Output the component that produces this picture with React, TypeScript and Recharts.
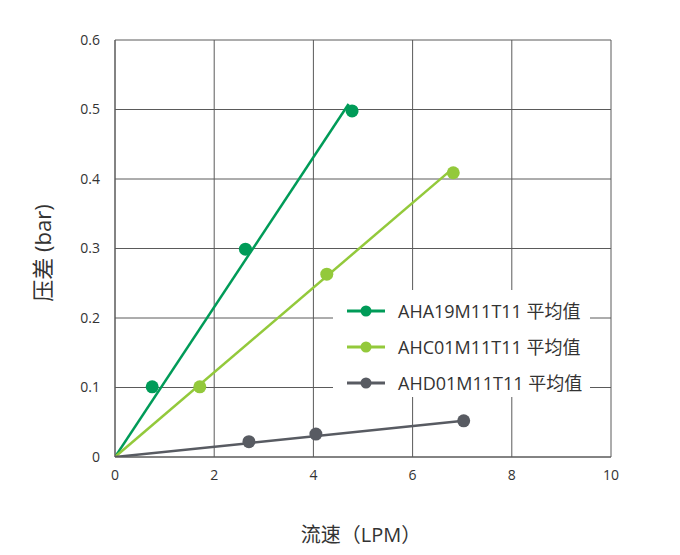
import {
    ComposedChart,
    Line,
    Scatter,
    XAxis,
    YAxis,
    CartesianGrid,
    Legend,
} from 'recharts';

// measured points (flow LPM, pressure drop bar)
const aha19Flow = [0.75, 2.63, 4.78];
const aha19Drop = [0.101, 0.299, 0.498];
const ahc01Flow = [1.71, 4.27, 6.82];
const ahc01Drop = [0.101, 0.263, 0.409];
const ahd01Flow = [2.7, 4.05, 7.03];
const ahd01Drop = [0.022, 0.033, 0.052];

// trend lines: start and end
const aha19FitFlow = [0, 4.71];
const aha19FitDrop = [0, 0.508];
const ahc01FitFlow = [0, 6.76];
const ahc01FitDrop = [0, 0.412];
const ahd01FitFlow = [0, 7.03];
const ahd01FitDrop = [0, 0.052];

const xTicks = [0, 2, 4, 6, 8, 10];
const yTicks = [0, 0.1, 0.2, 0.3, 0.4, 0.5, 0.6];

const toPoints = (xs: number[], ys: number[]) => xs.map((x, i) => ({ x, y: ys[i] }));

const series = [
    {
        name: 'AHA19M11T11 平均值',
        color: '#009b58',
        points: toPoints(aha19Flow, aha19Drop),
        fit: toPoints(aha19FitFlow, aha19FitDrop),
    },
    {
        name: 'AHC01M11T11 平均值',
        color: '#93c93b',
        points: toPoints(ahc01Flow, ahc01Drop),
        fit: toPoints(ahc01FitFlow, ahc01FitDrop),
    },
    {
        name: 'AHD01M11T11 平均值',
        color: '#585b62',
        points: toPoints(ahd01Flow, ahd01Drop),
        fit: toPoints(ahd01FitFlow, ahd01FitDrop),
    },
];

const gridColor = '#5a5a5a';
const textColor = '#333333';

const LegendBox = () => (
    <div style={{ background: '#fff', width: 257, height: 104, paddingTop: 3 }}>
        {series.map((s) => (
            <div key={s.name} style={{ display: 'flex', alignItems: 'center', height: 36, lineHeight: '36px' }}>
                <svg width={65} height={14} style={{ flexShrink: 0 }}>
                    <line x1={14} y1={7} x2={52} y2={7} stroke={s.color} strokeWidth={3} />
                    <circle cx={33} cy={7} r={5.5} fill={s.color} />
                </svg>
                <span style={{ fontSize: 18, color: textColor, whiteSpace: 'nowrap' }}>{s.name}</span>
            </div>
        ))}
    </div>
);

const App = () => {
    return (
        <div
            style={{
                position: 'absolute',
                left: 0,
                top: 0,
                width: 680,
                height: 555,
                background: '#fff',
                fontFamily: "'Open Sans', 'Noto Sans CJK SC', sans-serif",
            }}
        >
            <ComposedChart width={680} height={555} margin={{ top: 40, right: 69, bottom: 68, left: 0 }}>
                <CartesianGrid stroke={gridColor} strokeWidth={1} />
                <XAxis
                    type="number"
                    dataKey="x"
                    domain={[0, 10]}
                    ticks={xTicks}
                    allowDataOverflow
                    height={30}
                    stroke={gridColor}
                    tickLine={false}
                    tickSize={0}
                    tickMargin={13}
                    tick={{ fill: textColor, fontSize: 14 }}
                    label={{
                        content: () => (
                            <text
                                x={361}
                                y={534}
                                textAnchor="middle"
                                dominantBaseline="central"
                                fontSize={20}
                                fill={textColor}
                            >
                                流速（LPM）
                            </text>
                        ),
                    }}
                />
                <YAxis
                    type="number"
                    dataKey="y"
                    domain={[0, 0.6]}
                    ticks={yTicks}
                    allowDataOverflow
                    width={115}
                    stroke={gridColor}
                    tickLine={false}
                    tickSize={0}
                    tickMargin={15}
                    tick={{ fill: textColor, fontSize: 14 }}
                    label={{
                        content: () => (
                            <text
                                x={42}
                                y={253}
                                textAnchor="middle"
                                dominantBaseline="central"
                                transform="rotate(-90 42 253)"
                                fontSize={22}
                                fill={textColor}
                            >
                                压差 (bar)
                            </text>
                        ),
                    }}
                />
                {series.map((s) => (
                    <Line
                        key={`${s.name}-fit`}
                        data={s.fit}
                        dataKey="y"
                        type="linear"
                        stroke={s.color}
                        strokeWidth={2.5}
                        dot={false}
                        activeDot={false}
                        legendType="none"
                        isAnimationActive={false}
                    />
                ))}
                {series.map((s) => (
                    <Scatter
                        key={`${s.name}-pts`}
                        name={s.name}
                        data={s.points}
                        dataKey="y"
                        fill={s.color}
                        shape={(props: any) => <circle cx={props.cx} cy={props.cy} r={6.5} fill={s.color} />}
                        isAnimationActive={false}
                    />
                ))}
                <Legend
                    layout="vertical"
                    align="center"
                    verticalAlign="middle"
                    content={() => <LegendBox />}
                    wrapperStyle={{ left: 333, top: 290, width: 257, height: 104 }}
                />
            </ComposedChart>
        </div>
    );
};

export default App;
